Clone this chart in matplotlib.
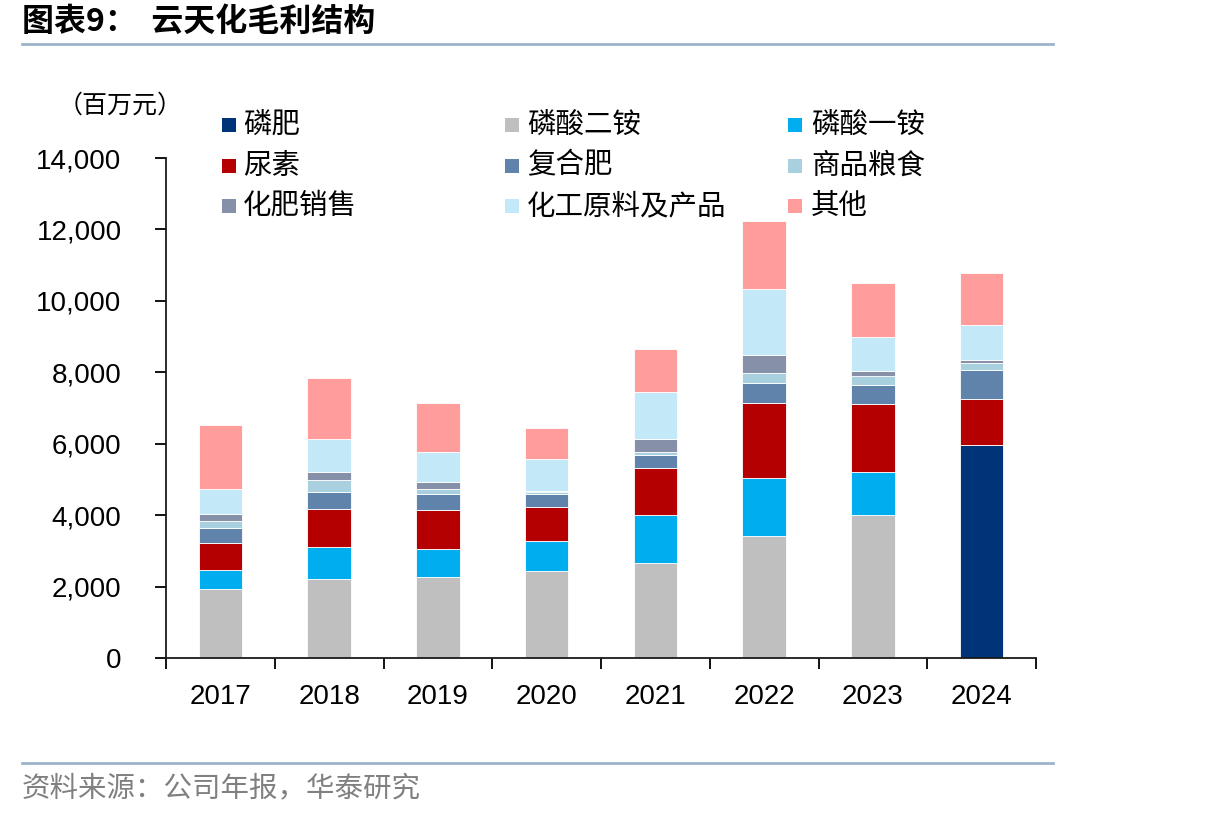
import matplotlib
matplotlib.use('Agg')
import matplotlib.pyplot as plt
from matplotlib.patches import Rectangle
from matplotlib.lines import Line2D
from matplotlib.ticker import FuncFormatter, FixedLocator
import numpy as np

# ---------------- data (百万元) ----------------
years = ['2017', '2018', '2019', '2020', '2021', '2022', '2023', '2024']
series_names = ['磷肥', '磷酸二铵', '磷酸一铵', '尿素', '复合肥', '商品粮食',
                '化肥销售', '化工原料及产品', '其他']
phos_fert = [0, 0, 0, 0, 0, 0, 0, 5960]
dap = [1940, 2200, 2270, 2440, 2660, 3420, 4000, 0]
map_ = [520, 910, 780, 840, 1340, 1610, 1200, 0]
urea = [770, 1060, 1100, 950, 1330, 2110, 1920, 1290]
compound = [420, 480, 450, 370, 360, 560, 520, 810]
grain = [200, 330, 130, 50, 80, 280, 270, 190]
fert_sales = [190, 240, 210, 40, 370, 510, 130, 100]
chem = [690, 900, 830, 880, 1310, 1830, 950, 970]
other = [1790, 1720, 1370, 870, 1200, 1910, 1500, 1460]
yticks = [0, 2000, 4000, 6000, 8000, 10000, 12000, 14000]

colors = ['#003478', '#BFBFBF', '#00AEEF', '#B40000', '#5F83AB', '#A9D0DF',
          '#8690A8', '#C3E9F8', '#FF9C9C']
series = [phos_fert, dap, map_, urea, compound, grain, fert_sales, chem, other]

CJK = ['Noto Sans CJK SC', 'DejaVu Sans']
LAT = ['Liberation Sans', 'DejaVu Sans']

W, H = 1206, 817
fig = plt.figure(figsize=(W / 100, H / 100), dpi=100)


def fx(px):
    return px / W


def fy(py):
    return 1 - py / H


ax = fig.add_axes([fx(166), fy(658), fx(1036) - fx(166), fy(158) - fy(658)])

x = np.arange(len(years))
bottom = np.zeros(len(years))
for vals, c in zip(series, colors):
    v = np.array(vals, dtype=float)
    ax.bar(x, v, width=0.4, bottom=bottom, color=c, edgecolor='white',
           linewidth=0.6, zorder=2)
    bottom += v

ax.set_xlim(-0.5, len(years) - 0.5)
ax.set_ylim(0, 14000)
ax.yaxis.set_major_locator(FixedLocator(yticks))
ax.yaxis.set_major_formatter(FuncFormatter(lambda v, p: f'{int(v):,}'))
ax.tick_params(axis='y', direction='out', length=8, width=1.3, pad=24,
               labelsize=20, colors='black')
# x ticks: boundaries as major ticks, labels at centers as minor
ax.set_xticks(np.arange(-0.5, len(years), 1.0))
ax.set_xticklabels([])
ax.set_xticks(x, minor=True)
ax.set_xticklabels(years, minor=True)
ax.tick_params(axis='x', which='major', direction='out', length=8, width=1.3)
ax.tick_params(axis='x', which='minor', length=0, pad=19, labelsize=20)
for lab in ax.get_yticklabels() + ax.get_xticklabels(minor=True):
    lab.set_fontfamily(LAT)

for s in ['top', 'right']:
    ax.spines[s].set_visible(False)
for s in ['left', 'bottom']:
    ax.spines[s].set_linewidth(1.3)
    ax.spines[s].set_color('#1a1a1a')

# unit label
fig.text(fx(120), fy(106), '（百万元）', fontsize=18, family=CJK,
         ha='center', va='center', color='black')

# legend (row-major, 3 columns)
col_marker_x = [222, 505, 788]
col_text_x = [243, 527, 811]
row_y = [124.5, 165.5, 206]
for i, (name, c) in enumerate(zip(series_names, colors)):
    r, cidx = divmod(i, 3)
    mx, my = col_marker_x[cidx], row_y[r]
    fig.add_artist(Rectangle((fx(mx), fy(my + 7)), fx(14), 14 / H,
                             transform=fig.transFigure, facecolor=c,
                             edgecolor='none'))
    fig.text(fx(col_text_x[cidx]), fy(my), name, fontsize=20.5, family=CJK,
             ha='left', va='center', color='black')

# title
fig.text(fx(22), fy(22), '图表9：  云天化毛利结构', fontsize=23, family=CJK,
         fontweight='bold', ha='left', va='center', color='black')
fig.add_artist(Line2D([fx(22), fx(1053)], [fy(44), fy(44)],
                      transform=fig.transFigure, color='#9DB3CC', lw=2))
# source
fig.add_artist(Line2D([fx(22), fx(1053)], [fy(763), fy(763)],
                      transform=fig.transFigure, color='#9DB3CC', lw=2))
fig.text(fx(22), fy(788), '资料来源：公司年报，华泰研究', fontsize=20.5, family=CJK,
         ha='left', va='center', color='#808080')

fig.savefig('out.png', dpi=100)
